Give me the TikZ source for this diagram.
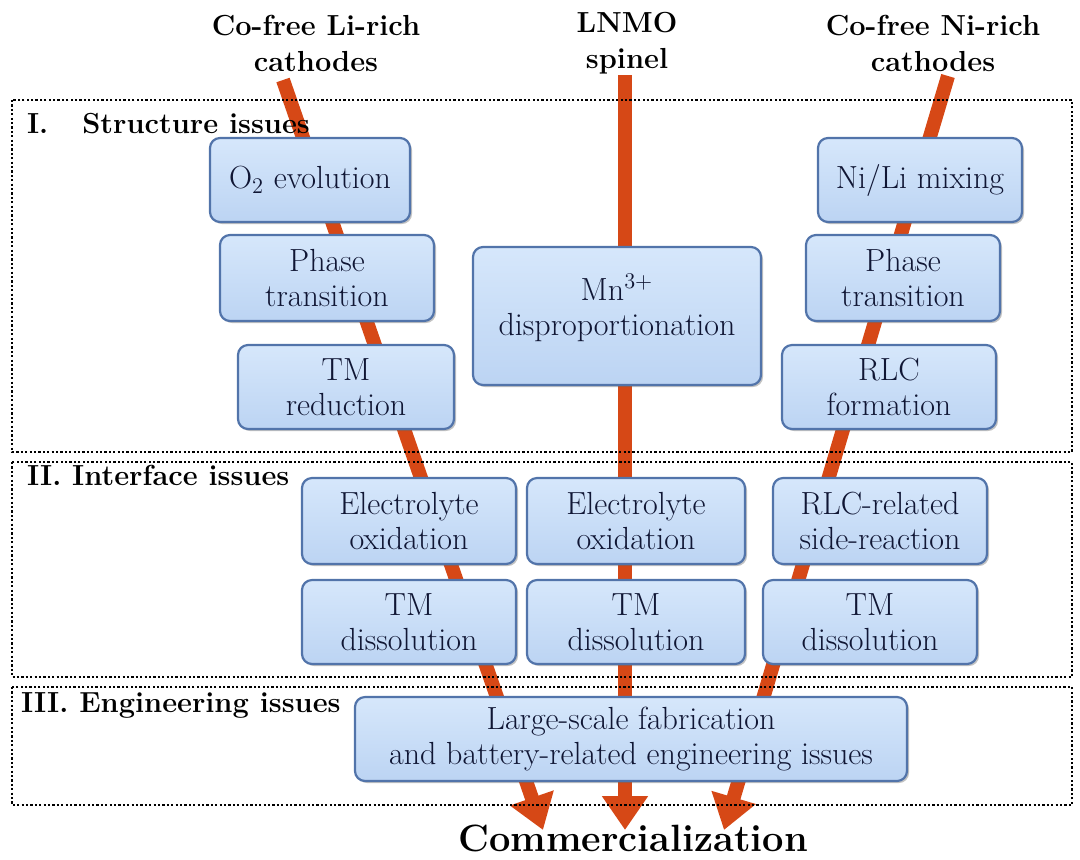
\documentclass[tikz,border=0pt]{standalone}
\usepackage{fontspec}
\usepackage{tikz}
\usetikzlibrary{arrows.meta,shadows}
\definecolor{boxtop}{RGB}{214,231,251}
\definecolor{boxfill}{RGB}{188,212,243}
\definecolor{boxedge}{RGB}{82,116,170}
\definecolor{boxtext}{RGB}{16,22,52}
\definecolor{flow}{RGB}{214,72,22}

\begin{document}
\begin{tikzpicture}[x=0.5pt,y=-0.5pt,
  issue/.style={draw=boxedge, top color=boxtop, bottom color=boxfill, rounded corners=5pt, line width=1.1pt,
    text=boxtext, align=center, inner sep=0pt, minimum height=42pt,
    font=\fontsize{16}{17.5}\selectfont,
    drop shadow={shadow xshift=1pt, shadow yshift=-1pt, opacity=.4, fill=black!60}},
  flow arrow/.style={draw=flow, line width=7pt, -{Triangle[width=22pt,length=17pt]}},
  section/.style={line width=1.2pt, dash pattern=on 1.1pt off 1.1pt},
  head/.style={align=center, font=\fontsize{14.5}{18}\selectfont\bfseries},
  sec label/.style={anchor=base west, font=\fontsize{14.5}{18}\selectfont\bfseries}]
  \useasboundingbox (0,0) rectangle (1080,859);
  % the three routes
  \coordinate (liTop) at (283,80);
  \coordinate (liEnd) at (543,830);
  \coordinate (lnTop) at (625,75);
  \coordinate (lnEnd) at (625,830);
  \coordinate (niTop) at (948,76);
  \coordinate (niEnd) at (724,830);
  \draw[flow arrow] (liTop) -- (liEnd);
  \draw[flow arrow] (lnTop) -- (lnEnd);
  \draw[flow arrow] (niTop) -- (niEnd);
  % issue sections
  \draw[section] (12,100) rectangle (1072,452);
  \draw[section] (12,462) rectangle (1072,677);
  \draw[section] (12,687) rectangle (1072,805);
  \node[sec label] (secI) at (20,133) {I.\hspace{0.8em} Structure issues};
  \node[sec label] (secII) at (20,485) {II. Interface issues};
  \node[sec label] (secIII) at (14,712) {III. Engineering issues};
  % structure issues
  \node[issue, minimum width=100pt] (o2) at (310,180) {O\textsubscript{2} evolution};
  \node[issue, minimum width=107pt, minimum height=43pt] (phaseL) at (327,278) {Phase\\transition};
  \node[issue, minimum width=108pt] (tmRed) at (346,387) {TM\\reduction};
  \node[issue, minimum width=144pt, minimum height=69pt] (mn) at (617,316) {Mn\textsuperscript{3+}\\disproportionation\\[-6pt]\mbox{}};
  \node[issue, minimum width=102pt] (niLi) at (920,180) {Ni/Li mixing};
  \node[issue, minimum width=97pt, minimum height=43pt] (phaseR) at (903,278) {Phase\\transition};
  \node[issue, minimum width=107pt] (rlc) at (889,387) {RLC\\formation};
  % interface issues
  \node[issue, minimum width=107pt, minimum height=43pt] (elecL) at (409,521) {Electrolyte\\oxidation};
  \node[issue, minimum width=109pt, minimum height=43pt] (elecM) at (636,521) {Electrolyte\\oxidation};
  \node[issue, minimum width=107pt, minimum height=43pt] (rlcSide) at (880,521) {RLC-related\\side-reaction};
  \node[issue, minimum width=107pt] (dissL) at (409,622) {TM\\dissolution};
  \node[issue, minimum width=109pt] (dissM) at (636,622) {TM\\dissolution};
  \node[issue, minimum width=107pt] (dissR) at (870,622) {TM\\dissolution};
  % engineering issues
  \node[issue, minimum width=276pt] (scale) at (631,739) {Large-scale fabrication\\and battery-related engineering issues};
  % heads and goal
  \node[head] (liRich) at (316,43) {Co-free Li-rich\\cathodes};
  \node[head] (lnmo) at (627,43) {LNMO\\spinel};
  \node[head] (niRich) at (933,43) {Co-free Ni-rich\\cathodes};
  \node[font=\fontsize{19}{22}\selectfont\bfseries] (comm) at (633,838) {Commercialization};
\end{tikzpicture}
\end{document}
